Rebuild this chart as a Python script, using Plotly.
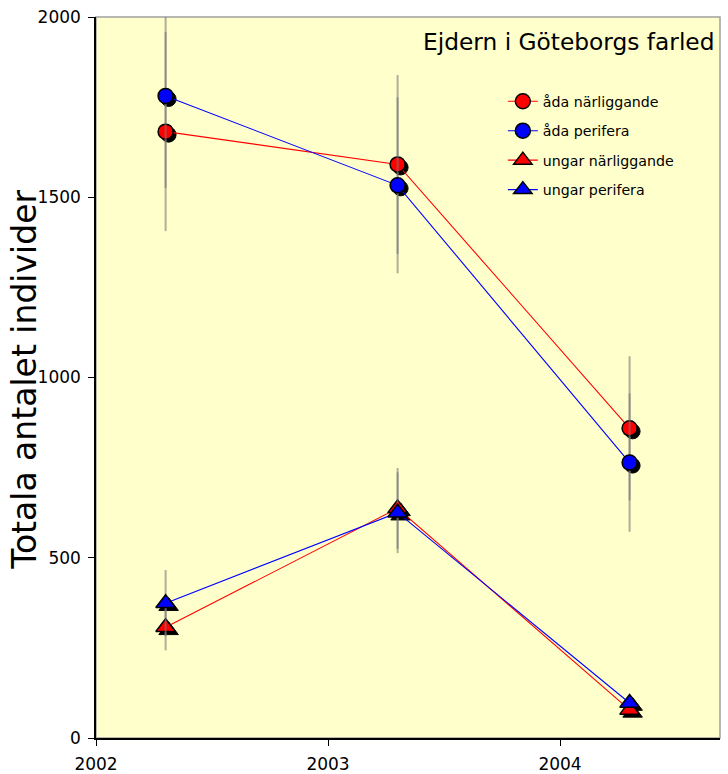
import plotly.graph_objects as go

# Survey years (mid-season count dates)
years = [2002.3, 2003.3, 2004.3]

# Total counts per group
ada_narliggande = [1682, 1591, 859]
ada_perifera = [1781, 1533, 764]
ungar_narliggande = [307, 637, 78]
ungar_perifera = [374, 625, 97]

# Spread of the counts (symmetric)
ada_narliggande_err = [276, 248, 200]
ada_perifera_err = [255, 244, 192]
ungar_narliggande_err = [64, 112, 12]
ungar_perifera_err = [92, 112, 12]

x_ticks = [2002, 2003, 2004]
y_ticks = [0, 500, 1000, 1500, 2000]

series = [
    ("åda närliggande", ada_narliggande, ada_narliggande_err, "#FF0000", "circle"),
    ("åda perifera", ada_perifera, ada_perifera_err, "#0000FF", "circle"),
    ("ungar närliggande", ungar_narliggande, ungar_narliggande_err, "#FF0000", "triangle-up"),
    ("ungar perifera", ungar_perifera, ungar_perifera_err, "#0000FF", "triangle-up"),
]

FONT = "DejaVu Sans, Verdana, sans-serif"
W, H = 728, 774
M_L, M_R, M_T, M_B = 96, 8, 17, 36
plot_w = W - M_L - M_R
plot_h = H - M_T - M_B

x_range = [2002, 2002 + plot_w / 232.0]
y_range = [0, 2000]
px_per_year = plot_w / (x_range[1] - x_range[0])
px_per_unit = plot_h / (y_range[1] - y_range[0])
shadow_dx, shadow_dy = 3, 3
# shadow axes are shifted so the same data lands a few pixels right and down
x_range_shadow = [x_range[0] - shadow_dx / px_per_year, x_range[1] - shadow_dx / px_per_year]
y_range_shadow = [y_range[0] + shadow_dy / px_per_unit, y_range[1] + shadow_dy / px_per_unit]

fig = go.Figure()

# drop shadows of the markers (base axes, drawn underneath)
for name, vals, err, color, sym in series:
    fig.add_trace(go.Scatter(
        x=years, y=vals, mode="markers", xaxis="x", yaxis="y",
        marker=dict(symbol=sym, size=15 if sym == "circle" else 17, color="black",
                    line=dict(color="black", width=1)),
        showlegend=False, hoverinfo="skip",
    ))

# data series with spread bars (overlay axes, drawn on top)
for i, (name, vals, err, color, sym) in enumerate(series):
    fig.add_trace(go.Scatter(
        x=years, y=vals, name=name, mode="lines+markers", xaxis="x2", yaxis="y2",
        line=dict(color=color, width=1.1),
        marker=dict(symbol=sym, size=15 if sym == "circle" else 17, color=color,
                    line=dict(color="black", width=1.5)),
        error_y=dict(type="data", array=err, visible=True, color="rgba(120,120,120,0.6)",
                     thickness=2, width=0),
        legendgroup=f"g{i}",
        cliponaxis=False,
    ))

# light frame on top/right
fig.add_shape(type="rect", xref="paper", yref="paper", x0=0, x1=1, y0=0, y1=1,
              line=dict(color="#A0A0A0", width=1.5), layer="below")

fig.add_annotation(
    text="Ejdern i Göteborgs farled", xref="paper", yref="paper",
    x=0.995, y=0.988, xanchor="right", yanchor="top", showarrow=False,
    font=dict(family=FONT, size=23.3, color="black"),
)

# vertical axis title
fig.add_annotation(
    text="Totala antalet individer", xref="paper", yref="paper",
    x=(25 - M_L) / plot_w, y=0.497, xanchor="center", yanchor="middle",
    textangle=-90, showarrow=False,
    font=dict(family=FONT, size=33, color="black"),
)

fig.update_layout(
    width=W, height=H,
    margin=dict(l=M_L, r=M_R, t=M_T, b=M_B, pad=0, autoexpand=False),
    paper_bgcolor="white",
    plot_bgcolor="#FFFFCC",
    font=dict(family=FONT, color="black"),
    xaxis=dict(range=x_range_shadow, visible=False, fixedrange=True, automargin=False),
    yaxis=dict(range=y_range_shadow, visible=False, fixedrange=True, automargin=False),
    xaxis2=dict(
        range=x_range, overlaying="x", side="bottom", automargin=False,
        tickmode="array", tickvals=x_ticks, ticktext=[str(v) for v in x_ticks],
        ticks="outside", ticklen=6, tickwidth=1, tickcolor="black",
        showline=True, linecolor="black", linewidth=1.5,
        showgrid=False, zeroline=False, ticklabelstandoff=4,
        tickfont=dict(family=FONT, size=17, color="black"),
    ),
    yaxis2=dict(
        range=y_range, overlaying="y", side="left", automargin=False,
        tickmode="array", tickvals=y_ticks, ticktext=[str(v) for v in y_ticks],
        ticks="outside", ticklen=6, tickwidth=1, tickcolor="black",
        showline=True, linecolor="black", linewidth=1.5,
        showgrid=False, zeroline=False, ticklabelstandoff=4,
        tickfont=dict(family=FONT, size=17, color="black"),
    ),
    legend=dict(
        x=0.652, y=0.905, xanchor="left", yanchor="top",
        bgcolor="rgba(0,0,0,0)", borderwidth=0,
        font=dict(family=FONT, size=14.2, color="black"),
        tracegroupgap=8, itemwidth=30,
    ),
)

fig.write_html("out.html")
